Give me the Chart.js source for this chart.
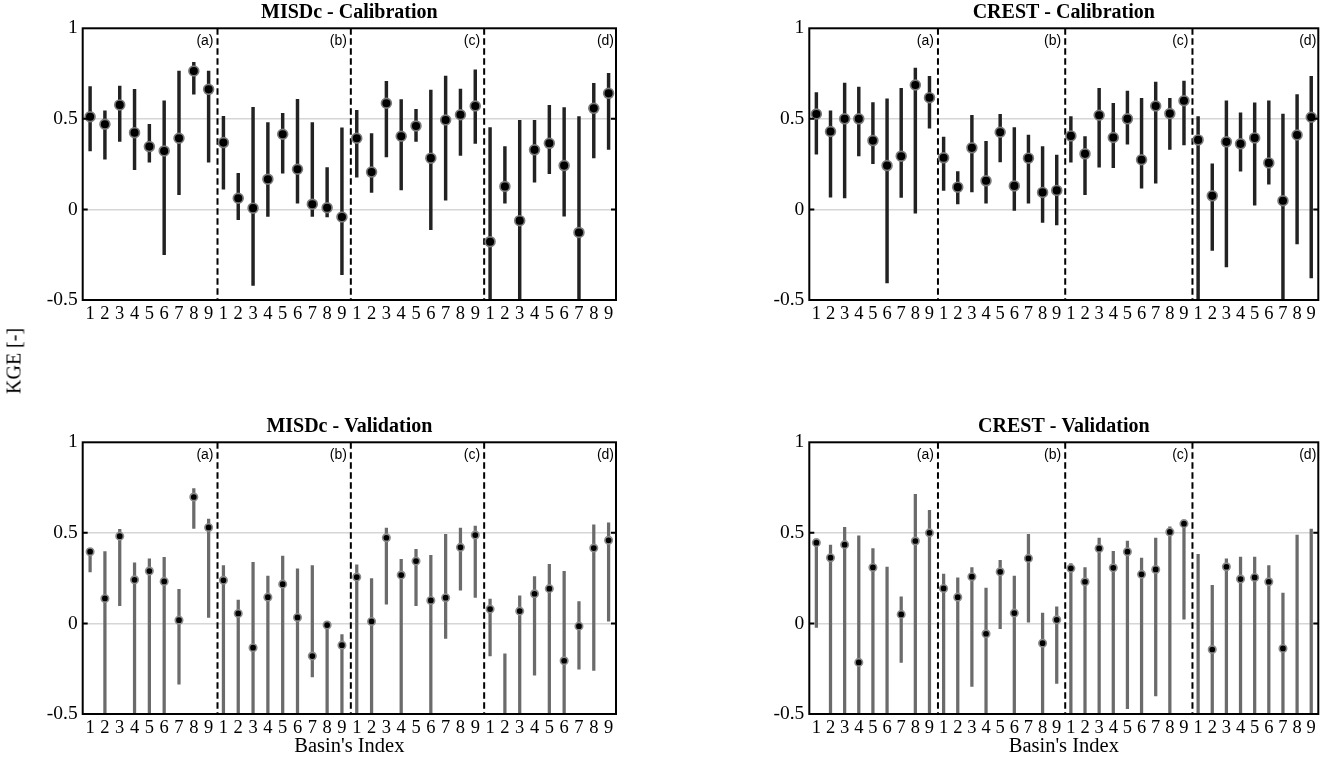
<!DOCTYPE html>
<html>
<head>
<meta charset="utf-8">
<script src="https://cdn.jsdelivr.net/npm/chart.js@4.4.1/dist/chart.umd.min.js"></script>
<style>
  body { margin: 0; background: #fff; width: 1325px; height: 760px; position: relative; overflow: hidden; }
  canvas { position: absolute; }
  #ylab { position: absolute; left: 14px; top: 361px; transform: translate(-50%, -50%) rotate(-90deg);
          font: 20px "Liberation Serif", "Times New Roman", serif; white-space: nowrap; color: #000; }
</style>
</head>
<body>
<canvas id="c1" width="662" height="340" style="left:0;top:0"></canvas>
<canvas id="c2" width="625" height="340" style="left:700px;top:0"></canvas>
<canvas id="c3" width="662" height="346" style="left:0;top:414px"></canvas>
<canvas id="c4" width="625" height="346" style="left:700px;top:414px"></canvas>
<div id="ylab">KGE [-]</div>
<script>
const basins = ['1', '2', '3', '4', '5', '6', '7', '8', '9'];
const groups = ['(a)', '(b)', '(c)', '(d)'];
const yTicks = [-0.5, 0, 0.5, 1];

// MISDc - Calibration
const misdcCalMed = [0.512, 0.470, 0.577, 0.424, 0.347, 0.323, 0.393, 0.764, 0.663,
                     0.369, 0.062, 0.007, 0.167, 0.415, 0.222, 0.029, 0.009, -0.042,
                     0.393, 0.206, 0.586, 0.404, 0.461, 0.283, 0.494, 0.523, 0.571,
                     -0.178, 0.127, -0.062, 0.329, 0.365, 0.242, -0.127, 0.558, 0.641];
const misdcCalHi = [0.678, 0.545, 0.681, 0.663, 0.470, 0.600, 0.764, 0.812, 0.764,
                    0.514, 0.200, 0.564, 0.479, 0.531, 0.608, 0.479, 0.231, 0.450,
                    0.547, 0.419, 0.707, 0.606, 0.553, 0.659, 0.736, 0.665, 0.771,
                    0.452, 0.347, 0.492, 0.492, 0.575, 0.562, 0.512, 0.696, 0.751];
const misdcCalLo = [0.323, 0.277, 0.375, 0.219, 0.261, -0.250, 0.081, 0.637, 0.261,
                    0.112, -0.057, -0.419, -0.039, 0.200, 0.035, -0.039, -0.042, -0.360,
                    0.178, 0.094, 0.290, 0.108, 0.376, -0.112, 0.051, 0.298, 0.364,
                    -0.6, 0.035, -0.6, 0.151, 0.197, -0.037, -0.6, 0.285, 0.331];

// CREST - Calibration
const crestCalMed = [0.527, 0.430, 0.500, 0.500, 0.380, 0.242, 0.294, 0.687, 0.617,
                     0.285, 0.123, 0.340, 0.158, 0.426, 0.130, 0.283, 0.094, 0.105,
                     0.406, 0.307, 0.520, 0.397, 0.500, 0.274, 0.571, 0.529, 0.600,
                     0.384, 0.075, 0.373, 0.362, 0.395, 0.257, 0.048, 0.411, 0.509];
const crestCalHi = [0.645, 0.544, 0.698, 0.676, 0.590, 0.610, 0.668, 0.780, 0.735,
                    0.400, 0.209, 0.520, 0.376, 0.525, 0.452, 0.411, 0.347, 0.300,
                    0.512, 0.402, 0.668, 0.586, 0.654, 0.613, 0.703, 0.613, 0.709,
                    0.512, 0.252, 0.600, 0.534, 0.588, 0.599, 0.527, 0.634, 0.735];
const crestCalLo = [0.305, 0.068, 0.064, 0.296, 0.252, -0.406, 0.066, -0.020, 0.448,
                    0.105, 0.031, 0.097, 0.035, 0.263, -0.006, 0.035, -0.072, -0.086,
                    0.261, 0.081, 0.233, 0.230, 0.360, 0.118, 0.145, 0.331, 0.356,
                    -0.6, -0.226, -0.318, 0.211, 0.024, 0.140, -0.6, -0.191, -0.378];

// MISDc - Validation
const misdcValMed = [0.396, 0.138, 0.482, 0.241, 0.289, 0.232, 0.018, 0.698, 0.530,
                     0.238, 0.055, -0.134, 0.145, 0.217, 0.033, -0.180, -0.009, -0.120,
                     0.256, 0.011, 0.473, 0.267, 0.344, 0.127, 0.142, 0.420, 0.488,
                     0.079, null, 0.068, 0.164, 0.192, -0.206, -0.015, 0.416, 0.459];
const misdcValHi = [0.410, 0.396, 0.519, 0.335, 0.357, 0.365, 0.188, 0.744, 0.576,
                    0.320, 0.129, 0.337, 0.262, 0.372, 0.302, 0.319, 0.010, -0.061,
                    0.324, 0.247, 0.527, 0.354, 0.409, 0.376, 0.492, 0.527, 0.538,
                    0.134, -0.168, 0.153, 0.258, 0.326, 0.287, 0.120, 0.545, 0.556];
const misdcValLo = [0.285, -0.6, 0.098, -0.6, -0.6, -0.6, -0.335, 0.525, 0.033,
                    -0.6, -0.6, -0.6, -0.6, -0.6, -0.6, -0.295, -0.6, -0.6,
                    -0.6, -0.6, 0.107, -0.6, 0.098, -0.6, -0.083, 0.184, 0.144,
                    -0.180, -0.6, -0.6, -0.285, -0.6, -0.6, -0.252, -0.260, 0.013];

// CREST - Validation
const crestValMed = [0.446, 0.363, 0.435, -0.215, 0.309, null, 0.050, 0.455, 0.500,
                     0.193, 0.145, 0.258, -0.057, 0.285, 0.057, 0.359, -0.109, 0.020,
                     0.304, 0.230, 0.414, 0.307, 0.396, 0.271, 0.298, 0.505, 0.551,
                     null, -0.144, 0.313, 0.245, 0.254, 0.230, -0.138, null, null];
const crestValHi = [0.460, 0.433, 0.530, 0.483, 0.413, 0.311, 0.147, 0.713, 0.624,
                    0.273, 0.252, 0.309, 0.195, 0.348, 0.262, 0.492, 0.057, 0.092,
                    0.330, 0.309, 0.471, 0.398, 0.455, 0.361, 0.471, 0.534, 0.569,
                    0.381, 0.210, 0.357, 0.366, 0.366, 0.319, 0.168, 0.488, 0.521];
const crestValLo = [-0.022, -0.6, -0.6, -0.6, -0.6, -0.6, -0.215, -0.6, -0.6,
                    -0.6, -0.6, -0.348, -0.6, -0.029, -0.6, 0.007, -0.6, -0.331,
                    -0.6, -0.6, -0.6, -0.6, -0.471, -0.6, -0.400, -0.6, 0.024,
                    -0.6, -0.6, -0.6, -0.6, -0.6, -0.6, -0.6, -0.6, -0.6];

const serif = '"Liberation Serif", "Times New Roman", serif';
const sans = '"Liberation Sans", Arial, sans-serif';
const nBasins = basins.length;
const nPts = groups.length * nBasins;
const xPos = Array.from({ length: nPts }, (_, i) => i + 1);

// dashed separators, group tags, box frame and inward ticks
const framePlugin = {
    id: 'frame',
    beforeDatasetsDraw(chart) {
        const { ctx, chartArea: a, scales: { x } } = chart;
        ctx.save();
        ctx.strokeStyle = '#000';
        ctx.lineWidth = 2;
        ctx.setLineDash([6.5, 3.5]);
        for (let g = 1; g < groups.length; g++) {
            const px = x.getPixelForValue(g * nBasins + 0.6);
            ctx.beginPath();
            ctx.moveTo(px, a.top);
            ctx.lineTo(px, a.bottom);
            ctx.stroke();
        }
        ctx.restore();

        ctx.save();
        ctx.fillStyle = '#000';
        ctx.font = '14px ' + sans;
        ctx.textAlign = 'right';
        ctx.textBaseline = 'middle';
        groups.forEach((label, g) => {
            let px = g < groups.length - 1 ? x.getPixelForValue((g + 1) * nBasins + 0.6) - 4 : a.right - 2;
            ctx.fillText(label, px, a.top + 12.5);
        });
        ctx.restore();
    },
    afterDraw(chart) {
        const { ctx, chartArea: a, scales: { y } } = chart;
        ctx.save();
        ctx.strokeStyle = '#000';
        ctx.lineWidth = 2;
        ctx.strokeRect(a.left, a.top, a.right - a.left, a.bottom - a.top);
        [0, 0.5].forEach(v => {
            const py = y.getPixelForValue(v);
            ctx.beginPath();
            ctx.moveTo(a.left, py); ctx.lineTo(a.left + 5, py);
            ctx.moveTo(a.right, py); ctx.lineTo(a.right - 5, py);
            ctx.stroke();
        });
        ctx.restore();
    }
};

function makePanel(id, title, med, lo, hi, calib, yWidth, padRight, xHeight, xTitle) {
    new Chart(document.getElementById(id), {
        type: 'bar',
        data: {
            datasets: [
                {
                    type: 'line',
                    data: med.map((m, i) => ({ x: xPos[i], y: m })),
                    showLine: false,
                    pointRadius: calib ? 4.9 : 3.7,
                    pointBorderWidth: 1.7,
                    pointBackgroundColor: '#000',
                    pointBorderColor: calib ? '#7a7a7a' : '#8c8c8c',
                    order: 0
                },
                {
                    type: 'bar',
                    data: lo.map((l, i) => ({ x: xPos[i], y: [l, hi[i]] })),
                    backgroundColor: calib ? '#222222' : '#6b6b6b',
                    barThickness: calib ? 2.8 : 2.6,
                    borderWidth: 0,
                    order: 1
                }
            ]
        },
        options: {
            responsive: false,
            animation: false,
            layout: { padding: { left: 0, right: padRight, top: 0, bottom: 0 } },
            plugins: {
                legend: { display: false },
                tooltip: { enabled: false },
                title: {
                    display: true,
                    text: title,
                    fullSize: false,
                    color: '#000',
                    font: { family: serif, size: 20, weight: 'bold', lineHeight: 1.2 },
                    padding: { top: 0.5, bottom: 3.8 }
                }
            },
            scales: {
                x: {
                    type: 'linear',
                    min: 0.5,
                    max: nPts + 0.5,
                    offset: false,
                    afterBuildTicks: s => { s.ticks = xPos.map(v => ({ value: v })); },
                    afterFit: s => { s.height = xHeight; },
                    grid: { display: false, drawTicks: false },
                    border: { display: false },
                    ticks: {
                        autoSkip: false,
                        maxRotation: 0,
                        padding: 3,
                        color: '#000',
                        font: { family: serif, size: 18.5 },
                        callback: v => basins[(v - 1) % nBasins]
                    },
                    title: {
                        display: xTitle,
                        text: "Basin's Index",
                        color: '#000',
                        font: { family: serif, size: 20.5 },
                        padding: { top: 0, bottom: 1.5 }
                    }
                },
                y: {
                    min: yTicks[0],
                    max: yTicks[yTicks.length - 1],
                    afterBuildTicks: s => { s.ticks = yTicks.map(v => ({ value: v })); },
                    afterFit: s => { s.width = yWidth; },
                    border: { display: false },
                    grid: {
                        drawTicks: false,
                        lineWidth: 1.5,
                        color: c => (c.tick && (c.tick.value === 0 || c.tick.value === 0.5)) ? '#d6d6d6' : 'rgba(0,0,0,0)'
                    },
                    ticks: {
                        padding: 5,
                        color: '#000',
                        font: { family: serif, size: 19.5 },
                        callback: v => String(v)
                    }
                }
            }
        },
        plugins: [framePlugin]
    });
}

makePanel('c1', 'MISDc - Calibration', misdcCalMed, misdcCalLo, misdcCalHi, true, 82.7, 46, 40, false);
makePanel('c2', 'CREST - Calibration', crestCalMed, crestCalLo, crestCalHi, true, 109.3, 6.7, 40, false);
makePanel('c3', 'MISDc - Validation', misdcValMed, misdcValLo, misdcValHi, false, 82.7, 46, 46, true);
makePanel('c4', 'CREST - Validation', crestValMed, crestValLo, crestValHi, false, 109.3, 6.7, 46, true);
</script>
</body>
</html>
